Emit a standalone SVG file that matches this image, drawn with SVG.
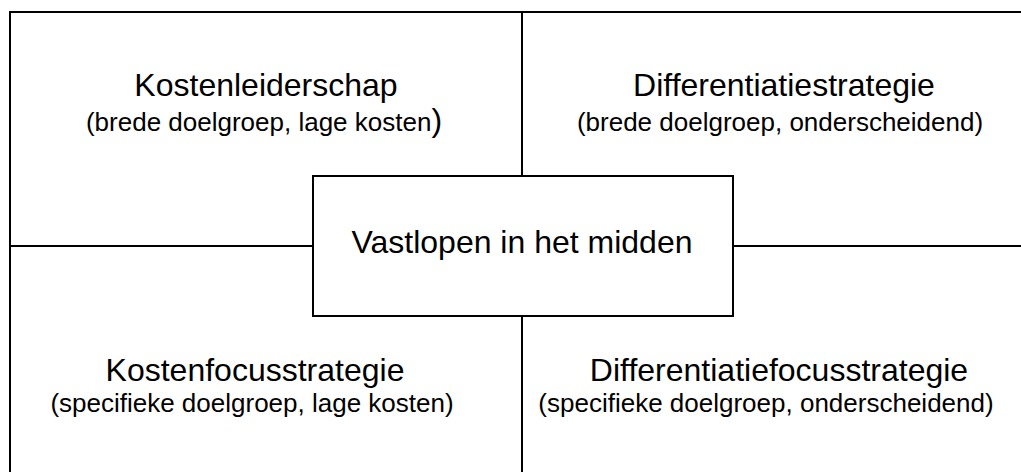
<svg xmlns="http://www.w3.org/2000/svg" width="1021" height="472" viewBox="0 0 1021 472">
  <style>
    .frame { fill: none; stroke: #000; stroke-width: 2; }
    .box { fill: #fff; stroke: #000; stroke-width: 2; }
    .title { font-family: "Liberation Sans", Arial, sans-serif; font-size: 32px; fill: #000; text-anchor: middle; }
    .sub { font-family: "Liberation Sans", Arial, sans-serif; font-size: 26px; fill: #000; text-anchor: middle; }
  </style>
  <rect width="1021" height="472" fill="#fff"/>
  <!-- outer frame of the strategy matrix -->
  <rect class="frame" x="10" y="12" width="1036" height="480"/>
  <!-- dividing lines between the quadrants -->
  <g id="connectors" class="frame">
    <line x1="522" y1="12" x2="522" y2="176"/>
    <line x1="522" y1="316" x2="522" y2="492"/>
    <line x1="10" y1="246" x2="313" y2="246"/>
    <line x1="733" y1="246" x2="1046" y2="246"/>
  </g>
  <g id="kostenleiderschap">
    <text class="title" x="266" y="96">Kostenleiderschap</text>
    <text class="sub" x="264" y="131">(brede doelgroep, lage kosten<tspan font-size="32">)</tspan></text>
  </g>
  <g id="differentiatiestrategie">
    <text class="title" x="784" y="96">Differentiatiestrategie</text>
    <text class="sub" x="780" y="131">(brede doelgroep, onderscheidend)</text>
  </g>
  <g id="kostenfocusstrategie">
    <text class="title" x="255" y="381">Kostenfocusstrategie</text>
    <text class="sub" x="252" y="412">(specifieke doelgroep, lage kosten)</text>
  </g>
  <g id="differentiatiefocusstrategie">
    <text class="title" x="779" y="381">Differentiatiefocusstrategie</text>
    <text class="sub" x="766" y="412">(specifieke doelgroep, onderscheidend)</text>
  </g>
  <g id="vastlopen">
    <rect class="box" x="313" y="176" width="420" height="140"/>
    <text class="title" x="522" y="253">Vastlopen in het midden</text>
  </g>
</svg>
